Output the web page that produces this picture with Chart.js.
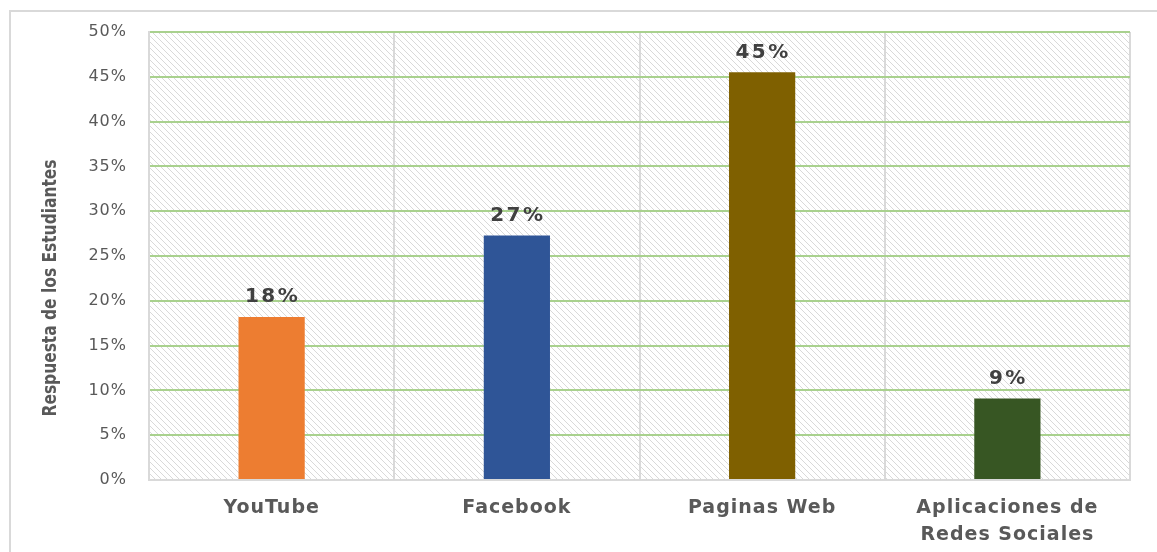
<!DOCTYPE html>
<html>
<head>
<meta charset="utf-8">
<script src="https://cdn.jsdelivr.net/npm/chart.js@4"></script>
<style>
  html, body { margin: 0; padding: 0; background: #fff; }
  #wrap { width: 1157px; height: 552px; position: relative; }
</style>
</head>
<body>
<div id="wrap"><canvas id="c" width="1157" height="552"></canvas></div>
<script>
const categories = ['YouTube', 'Facebook', 'Paginas Web', ['Aplicaciones de', 'Redes Sociales']];
const values = [18.2, 27.3, 45.5, 9.1];
const valueLabels = ['18%', '27%', '45%', '9%'];
const barColors = ['#ed7d31', '#2f5597', '#7f6000', '#375623'];
const yTicks = [0, 5, 10, 15, 20, 25, 30, 35, 40, 45, 50];
const yTitle = 'Respuesta de los Estudiantes';

function makePattern(ctx) {
  const s = 6;
  const pc = document.createElement('canvas');
  pc.width = s; pc.height = s;
  const p = pc.getContext('2d');
  p.fillStyle = '#ffffff';
  p.fillRect(0, 0, s, s);
  p.strokeStyle = '#d9d9d9';
  p.lineWidth = 1.0;
  p.beginPath();
  p.moveTo(-2, -2); p.lineTo(s + 2, s + 2);
  p.moveTo(-2 - s, -2); p.lineTo(2, s + 2);
  p.moveTo(s - 2, -2); p.lineTo(2 * s + 2, s + 2);
  p.stroke();
  return ctx.createPattern(pc, 'repeat');
}

const bgPlugin = {
  id: 'bg',
  beforeDraw(chart) {
    const ctx = chart.ctx;
    const a = chart.chartArea;
    ctx.save();
    ctx.fillStyle = '#fff';
    ctx.fillRect(0, 0, chart.width, chart.height);
    ctx.strokeStyle = '#d9d9d9';
    ctx.lineWidth = 2;
    ctx.strokeRect(10, 11, chart.width + 20, chart.height + 20);
    ctx.fillStyle = makePattern(ctx);
    ctx.fillRect(a.left, a.top, a.right - a.left, a.bottom - a.top);
    ctx.restore();
  }
};

const titlePlugin = {
  id: 'yTitle',
  afterDraw(chart) {
    const ctx = chart.ctx;
    ctx.save();
    try { ctx.letterSpacing = '0px'; } catch (e) {}
    ctx.font = 'bold 20px "DejaVu Sans Condensed", "Liberation Sans Narrow", sans-serif';
    const w = ctx.measureText(yTitle).width;
    const target = 257;
    ctx.translate(51, 288);
    ctx.rotate(-Math.PI / 2);
    ctx.scale(Math.min(1, target / w), 1);
    ctx.fillStyle = '#595959';
    ctx.textAlign = 'center';
    ctx.textBaseline = 'middle';
    ctx.fillText(yTitle, 0, 0);
    ctx.restore();
  }
};

const labelPlugin = {
  id: 'valueLabels',
  afterDatasetsDraw(chart) {
    const ctx = chart.ctx;
    const meta = chart.getDatasetMeta(0);
    ctx.save();
    ctx.font = 'bold 20px "DejaVu Sans", sans-serif';
    try { ctx.letterSpacing = '2.5px'; } catch (e) {}
    ctx.fillStyle = '#404040';
    ctx.textAlign = 'center';
    ctx.textBaseline = 'bottom';
    meta.data.forEach((bar, i) => {
      ctx.fillText(valueLabels[i], bar.x + 1, bar.y - 10);
    });
    ctx.restore();
  }
};

const spacingPlugin = {
  id: 'spacing',
  beforeDraw(chart) { try { chart.ctx.letterSpacing = '1px'; } catch (e) {} },
  afterDraw(chart) { try { chart.ctx.letterSpacing = '0px'; } catch (e) {} }
};

new Chart(document.getElementById('c'), {
  type: 'bar',
  data: {
    labels: categories,
    datasets: [{
      data: values,
      backgroundColor: barColors,
      barPercentage: 0.27,
      categoryPercentage: 1.0
    }]
  },
  options: {
    responsive: false,
    animation: false,
    devicePixelRatio: 1,
    layout: { padding: { top: 32, right: 27, bottom: 0, left: 0 } },
    plugins: { legend: { display: false }, tooltip: { enabled: false } },
    scales: {
      x: {
        afterFit(scale) { scale.height = 72; },
        grid: { color: '#d9d9d9', lineWidth: 2, drawTicks: false, offset: true },
        border: { color: '#d9d9d9', width: 2 },
        ticks: {
          color: '#595959',
          padding: 15,
          font: { family: '"DejaVu Sans", sans-serif', size: 19, weight: 'bold', lineHeight: 1.42 },
          maxRotation: 0, autoSkip: false
        }
      },
      y: {
        min: 0, max: 50,
        afterFit(scale) { scale.width = 149; },
        afterBuildTicks(scale) { scale.ticks = yTicks.map(v => ({ value: v })); },
        grid: {
          color: ctx => (ctx.tick && ctx.tick.value === 0) ? '#d9d9d9' : '#a9d18e',
          lineWidth: 2, drawTicks: false
        },
        border: { color: '#d9d9d9', width: 2 },
        ticks: {
          color: '#595959',
          padding: 22,
          font: { family: '"DejaVu Sans", sans-serif', size: 16 },
          callback: v => v + '%'
        }
      }
    }
  },
  plugins: [bgPlugin, labelPlugin, spacingPlugin, titlePlugin]
});
</script>
</body>
</html>
